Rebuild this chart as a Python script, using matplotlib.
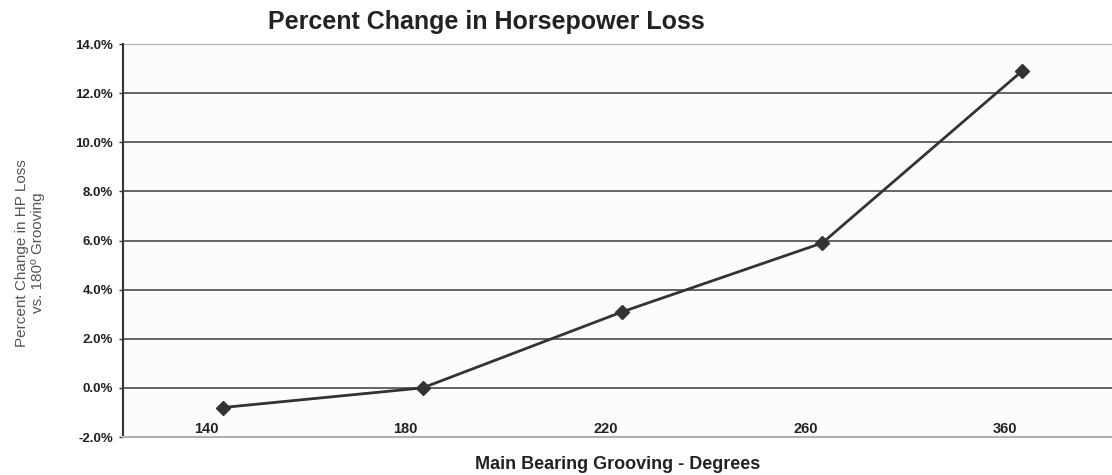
import matplotlib.pyplot as plt
import matplotlib.transforms as mtransforms
from matplotlib.ticker import FuncFormatter, MultipleLocator

categories = ["140", "180", "220", "260", "360"]
pct_change = [-0.8, 0.0, 3.1, 5.9, 12.9]

plt.rcParams["font.family"] = ["Liberation Sans", "DejaVu Sans"]

fig = plt.figure(figsize=(11.12, 4.75), dpi=100)
ax = fig.add_axes([123 / 1112, 1 - 437 / 475, 1 - 123 / 1112, (437 - 44) / 475])
ax.set_facecolor("#fcfcfc")

x = range(len(categories))
ax.plot(x, pct_change, color="#333333", linewidth=2, marker="D",
        markersize=7, markerfacecolor="#333333", markeredgecolor="#333333",
        zorder=4)

ax.set_ylim(-2, 14)
ax.set_xlim(-0.5, 4.45)
ax.yaxis.set_major_locator(MultipleLocator(2))
ax.yaxis.set_major_formatter(FuncFormatter(lambda v, _: f"{v:.1f}%"))
ax.grid(axis="y", color="#3a3a3a", linewidth=1.1, zorder=1)
ax.axhline(14, color="#b0b0b0", linewidth=1.5, zorder=2)

for side in ("top", "right"):
    ax.spines[side].set_visible(False)
ax.spines["left"].set_color("#333333")
ax.spines["left"].set_linewidth(1.5)
ax.spines["bottom"].set_color("#b0b0b0")
ax.spines["bottom"].set_linewidth(1.5)

ax.tick_params(axis="y", length=3, width=1, color="#333333", pad=4,
               labelsize=9.5, labelcolor="#222222")
for lbl in ax.get_yticklabels():
    lbl.set_fontweight("bold")

# category labels sit inside the plot, just above the bottom axis
ax.set_xticks(list(x), categories)
ax.tick_params(axis="x", length=0, pad=-1, labelsize=10.5, labelcolor="#222222")
shift = mtransforms.ScaledTranslation(-17 / 100, 0, fig.dpi_scale_trans)
for lbl in ax.get_xticklabels():
    lbl.set_va("bottom")
    lbl.set_fontweight("bold")
    lbl.set_transform(lbl.get_transform() + shift)

ax.set_xlabel("Main Bearing Grooving - Degrees", fontsize=13,
              fontweight="bold", color="#222222", labelpad=14)
fig.text(30 / 1112, 1 - 253 / 475,
         "Percent Change in HP Loss\nvs. 180º Grooving",
         rotation=90, ha="center", va="center", fontsize=11,
         color="#555555", linespacing=1.15)
fig.text(486 / 1112, 1 - 22 / 475, "Percent Change in Horsepower Loss",
         ha="center", va="center", fontsize=18, fontweight="bold",
         color="#222222")

plt.savefig("out.png", dpi=100)
plt.close()
